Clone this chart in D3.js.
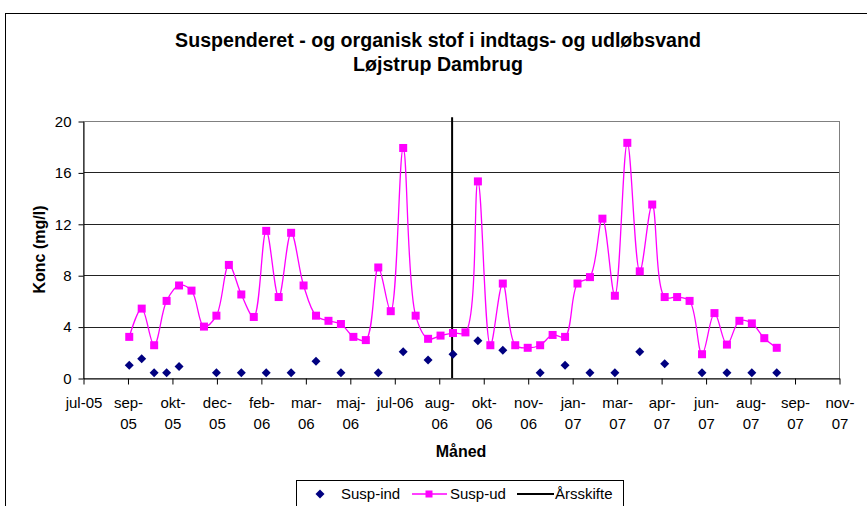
<!DOCTYPE html>
<html lang="da">
<head>
    <meta charset="UTF-8">
    <title>Suspenderet - og organisk stof i indtags- og udløbsvand</title>
    <script src="https://cdnjs.cloudflare.com/ajax/libs/d3/7.8.5/d3.min.js"></script>
    <style>
        body {
            margin: 0;
            background: #fff;
            font-family: "Liberation Sans", Arial, sans-serif;
        }
        svg text { fill: #000; }
        .title { font-size: 19.6px; font-weight: bold; }
        .axis-title { font-size: 16px; font-weight: bold; }
        .tick-label { font-size: 15px; }
        .legend-label { font-size: 15px; }
    </style>
</head>
<body>
    <svg id="chart" width="867" height="506"></svg>

    <script>
        // sampling dates for the outlet series (Susp-ud)
        const udDates = [
            "2005-09-07", "2005-09-21", "2005-10-05", "2005-10-19", "2005-11-02", "2005-11-16",
            "2005-11-30", "2005-12-14", "2005-12-28", "2006-01-11", "2006-01-25", "2006-02-08",
            "2006-02-22", "2006-03-08", "2006-03-22", "2006-04-05", "2006-04-19", "2006-05-03",
            "2006-05-17", "2006-05-31", "2006-06-14", "2006-06-28", "2006-07-12", "2006-07-26",
            "2006-08-09", "2006-08-23", "2006-09-06", "2006-09-20", "2006-10-04", "2006-10-18",
            "2006-11-01", "2006-11-15", "2006-11-29", "2006-12-13", "2006-12-27", "2007-01-10",
            "2007-01-24", "2007-02-07", "2007-02-21", "2007-03-07", "2007-03-21", "2007-04-04",
            "2007-04-18", "2007-05-02", "2007-05-16", "2007-05-30", "2007-06-13", "2007-06-27",
            "2007-07-11", "2007-07-25", "2007-08-08", "2007-08-22", "2007-09-05"
        ];
        const udValues = [
            3.2, 5.4, 2.55, 6.0, 7.2, 6.8, 4.0, 4.85, 8.8, 6.5, 4.75, 11.45,
            6.3, 11.3, 7.2, 4.85, 4.45, 4.2, 3.2, 2.95, 8.6, 5.2, 17.9, 4.85,
            3.05, 3.3, 3.5, 3.55, 15.3, 2.55, 7.35, 2.55, 2.35, 2.55, 3.35, 3.2,
            7.35, 7.85, 12.4, 6.4, 18.3, 8.3, 13.5, 6.3, 6.3, 6.0, 1.85, 5.05,
            2.6, 4.45, 4.25, 3.1, 2.35
        ];

        // inlet series (Susp-ind)
        const indDates = [
            "2005-09-07", "2005-09-21", "2005-10-05", "2005-10-19", "2005-11-02", "2005-12-14",
            "2006-01-11", "2006-02-08", "2006-03-08", "2006-04-05", "2006-05-03", "2006-06-14",
            "2006-07-12", "2006-08-09", "2006-09-06", "2006-10-04", "2006-11-01", "2006-12-13",
            "2007-01-10", "2007-02-07", "2007-03-07", "2007-04-04", "2007-05-02", "2007-06-13",
            "2007-07-11", "2007-08-08", "2007-09-05"
        ];
        const indValues = [
            1.0, 1.5, 0.4, 0.4, 0.9, 0.4, 0.4, 0.4, 0.4, 1.3, 0.4, 0.4,
            2.05, 1.4, 1.85, 2.9, 2.15, 0.4, 1.0, 0.4, 0.4, 2.05, 1.1, 0.4,
            0.4, 0.4, 0.4
        ];

        // year change marker (Årsskifte)
        const arsskifteDate = "2006-09-05";
        const arsskifteRange = [0, 20.3];

        const yTicks = [0, 4, 8, 12, 16, 20];
        const xTickLabels = [
            ["jul-05"], ["sep-", "05"], ["okt-", "05"], ["dec-", "05"], ["feb-", "06"], ["mar-", "06"],
            ["maj-", "06"], ["jul-06"], ["aug-", "06"], ["okt-", "06"], ["nov-", "06"], ["jan-", "07"],
            ["mar-", "07"], ["apr-", "07"], ["jun-", "07"], ["aug-", "07"], ["sep-", "07"], ["nov-", "07"]
        ];
        const axisStart = "2005-07-17";
        const tickStepDays = 50;

        const parse = d3.timeParse("%Y-%m-%d");
        const svg = d3.select("#chart");
        const plot = { left: 83, right: 839, top: 121, bottom: 378 };

        const start = parse(axisStart);
        const end = d3.timeDay.offset(start, tickStepDays * (xTickLabels.length - 1));

        const x = d3.scaleTime().domain([start, end]).range([plot.left, plot.right]);
        const y = d3.scaleLinear().domain([0, 20]).range([plot.bottom, plot.top]);

        // outer chart border
        svg.append("rect")
            .attr("x", 5.5).attr("y", 13.5)
            .attr("width", 900).attr("height", 600)
            .attr("fill", "none").attr("stroke", "#000");

        // title
        const title = svg.append("text")
            .attr("class", "title")
            .attr("text-anchor", "middle");
        title.append("tspan").attr("x", 438).attr("y", 47)
            .text("Suspenderet - og organisk stof i indtags- og udløbsvand");
        title.append("tspan").attr("x", 438).attr("y", 71)
            .text("Løjstrup Dambrug");

        // gridlines
        svg.append("g")
            .selectAll("line")
            .data(yTicks.filter(d => d > 0 && d < 20))
            .join("line")
            .attr("x1", plot.left).attr("x2", plot.right)
            .attr("y1", d => Math.round(y(d)) + 0.5)
            .attr("y2", d => Math.round(y(d)) + 0.5)
            .attr("stroke", "#222");

        // plot area border
        svg.append("rect")
            .attr("x", plot.left + 0.5).attr("y", plot.top + 0.5)
            .attr("width", plot.right - plot.left).attr("height", plot.bottom - plot.top)
            .attr("fill", "none").attr("stroke", "#808080");

        // y axis
        const yAxis = svg.append("g")
            .attr("transform", `translate(${plot.left + 0.5},0.5)`)
            .call(d3.axisLeft(y).tickValues(yTicks).tickSize(5).tickSizeOuter(0).tickPadding(7));
        yAxis.selectAll("text").attr("class", "tick-label").attr("font-size", null).attr("font-family", null);
        yAxis.selectAll("path, line").attr("stroke", "#000");

        // x axis
        const xTickDates = xTickLabels.map((_, i) => d3.timeDay.offset(start, tickStepDays * i));
        const xAxis = svg.append("g")
            .attr("transform", `translate(0.5,${plot.bottom + 0.5})`)
            .call(d3.axisBottom(x).tickValues(xTickDates).tickSize(6).tickSizeOuter(0).tickFormat(""));
        xAxis.selectAll("path, line").attr("stroke", "#000");
        xAxis.selectAll(".tick text").remove();
        xAxis.selectAll(".tick").each(function(d, i) {
            const t = d3.select(this).append("text")
                .attr("class", "tick-label")
                .attr("text-anchor", "middle");
            xTickLabels[i].forEach((line, j) => {
                t.append("tspan").attr("x", 0).attr("y", 29 + j * 21).text(line);
            });
        });

        // axis titles
        svg.append("text")
            .attr("class", "axis-title")
            .attr("transform", `translate(45,${(plot.top + plot.bottom) / 2}) rotate(-90)`)
            .attr("text-anchor", "middle")
            .text("Konc (mg/l)");
        svg.append("text")
            .attr("class", "axis-title")
            .attr("x", (plot.left + plot.right) / 2).attr("y", 457)
            .attr("text-anchor", "middle")
            .text("Måned");

        // year change line
        svg.append("line")
            .attr("x1", x(parse(arsskifteDate))).attr("x2", x(parse(arsskifteDate)))
            .attr("y1", y(arsskifteRange[0])).attr("y2", y(arsskifteRange[1]))
            .attr("stroke", "#000").attr("stroke-width", 2);

        // Susp-ud smoothed line + squares
        const ud = udDates.map((d, i) => ({ date: parse(d), value: udValues[i] }));
        const line = d3.line()
            .x(d => x(d.date))
            .y(d => y(d.value))
            .curve(d3.curveCatmullRom.alpha(0.5));
        svg.append("path")
            .datum(ud)
            .attr("d", line)
            .attr("fill", "none")
            .attr("stroke", "#ff00ff")
            .attr("stroke-width", 1.3);
        svg.append("g")
            .selectAll("rect")
            .data(ud)
            .join("rect")
            .attr("x", d => x(d.date) - 4)
            .attr("y", d => y(d.value) - 4)
            .attr("width", 8).attr("height", 8)
            .attr("fill", "#ff00ff");

        // Susp-ind diamonds
        const diamond = "M0,-4.5L4.5,0L0,4.5L-4.5,0Z";
        svg.append("g")
            .selectAll("path")
            .data(indDates.map((d, i) => ({ date: parse(d), value: indValues[i] })))
            .join("path")
            .attr("transform", d => `translate(${x(d.date)},${y(d.value)})`)
            .attr("d", diamond)
            .attr("fill", "#000080");

        // legend
        const legend = svg.append("g");
        legend.append("rect")
            .attr("x", 296.5).attr("y", 480.5)
            .attr("width", 327).attr("height", 40)
            .attr("fill", "#fff").attr("stroke", "#000");
        legend.append("path")
            .attr("transform", "translate(320,494)")
            .attr("d", diamond)
            .attr("fill", "#000080");
        legend.append("text").attr("class", "legend-label").attr("x", 341).attr("y", 499).text("Susp-ind");
        legend.append("line")
            .attr("x1", 412).attr("x2", 447).attr("y1", 494).attr("y2", 494)
            .attr("stroke", "#ff00ff").attr("stroke-width", 1.3);
        legend.append("rect")
            .attr("x", 425.5).attr("y", 490.5).attr("width", 7).attr("height", 7)
            .attr("fill", "#ff00ff");
        legend.append("text").attr("class", "legend-label").attr("x", 450).attr("y", 499).text("Susp-ud");
        legend.append("line")
            .attr("x1", 517).attr("x2", 554).attr("y1", 494).attr("y2", 494)
            .attr("stroke", "#000").attr("stroke-width", 2);
        legend.append("text").attr("class", "legend-label").attr("x", 555).attr("y", 499).text("Årsskifte");
    </script>
</body>
</html>
